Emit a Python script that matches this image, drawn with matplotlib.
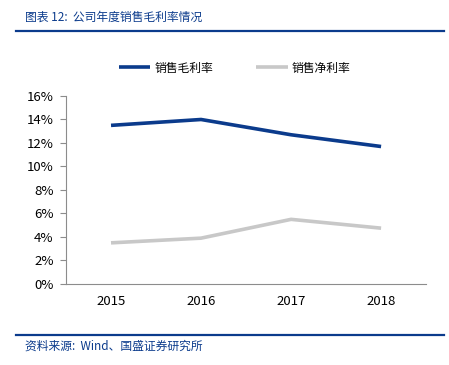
import matplotlib.pyplot as plt
from matplotlib.ticker import PercentFormatter
from matplotlib.lines import Line2D

plt.rcParams['font.family'] = ['Noto Sans CJK SC', 'DejaVu Sans']

years = ['2015', '2016', '2017', '2018']
gross_margin = [13.5, 14.0, 12.7, 11.7]
net_margin = [3.5, 3.9, 5.5, 4.75]

navy = '#0b3b8c'
grey = '#c8c8c8'

fig = plt.figure(figsize=(4.49, 3.65), dpi=100)
ax = fig.add_axes([0.147, 0.222, 0.802, 0.515])

x = range(len(years))
ax.plot(x, gross_margin, color=navy, lw=2.6, solid_capstyle='butt', label='销售毛利率')
ax.plot(x, net_margin, color=grey, lw=2.6, solid_capstyle='butt', label='销售净利率')

ax.set_xlim(-0.5, 3.5)
ax.set_ylim(0, 16)
ax.set_yticks(range(0, 17, 2))
ax.yaxis.set_major_formatter(PercentFormatter(decimals=0))
ax.set_xticks(list(x))
ax.set_xticklabels(years)

for s in ['top', 'right']:
    ax.spines[s].set_visible(False)
for s in ['left', 'bottom']:
    ax.spines[s].set_color('#8c8c8c')
    ax.spines[s].set_linewidth(0.8)
ax.tick_params(axis='y', length=4, color='#8c8c8c', labelsize=9.5, pad=5)
ax.tick_params(axis='x', length=0, labelsize=9.5, pad=8)

ax.legend(loc='center', bbox_to_anchor=(0.468, 1.149), ncol=2, frameon=False,
          fontsize=8.5, handlelength=2.7, columnspacing=3.6, handletextpad=0.35)

# title and source
fig.text(0.056, 0.953, '图表 12:  公司年度销售毛利率情况', color=navy, fontsize=8.5,
         style='italic', va='center')
fig.add_artist(Line2D([0.036, 0.989], [0.915, 0.915], color=navy, lw=1.6))
fig.add_artist(Line2D([0.036, 0.989], [0.082, 0.082], color=navy, lw=1.6))
fig.text(0.056, 0.052, '资料来源:  Wind、国盛证券研究所', color=navy, fontsize=8.5,
         style='italic', va='center')

fig.savefig('out.png', dpi=100)
